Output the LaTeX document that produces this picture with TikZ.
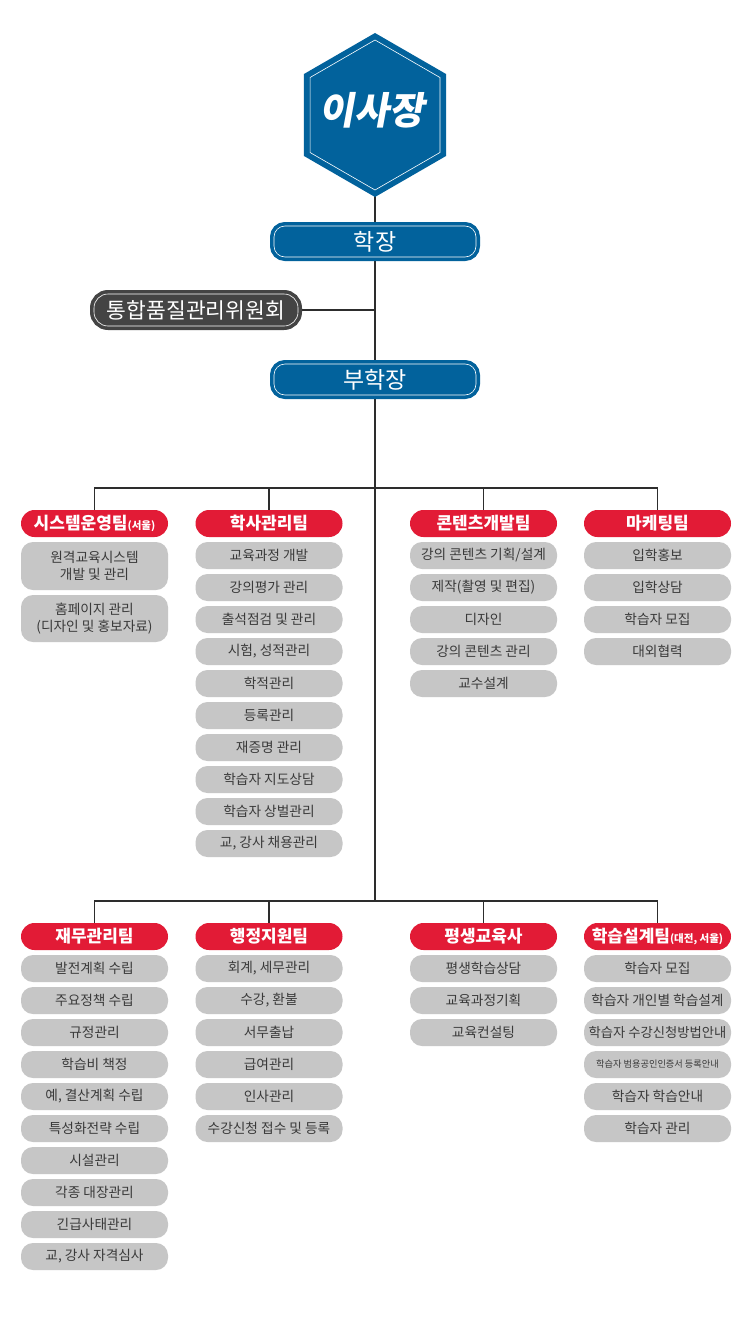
\documentclass[tikz,border=0pt]{standalone}
\usepackage{fontspec}
\setmainfont{Noto Sans CJK KR}
\newfontfamily\slantkor[FakeSlant=0.18]{Noto Sans CJK KR}
\usetikzlibrary{positioning, backgrounds}

\definecolor{chairblue}{RGB}{2,98,156}
\definecolor{boardgray}{RGB}{68,68,68}
\definecolor{teamred}{RGB}{226,27,54}
\definecolor{taskgray}{RGB}{198,198,198}
\definecolor{taskink}{RGB}{58,58,58}
\definecolor{linegray}{RGB}{45,45,45}

\newcommand{\subnote}[1]{{\fontsize{10.5}{12}\selectfont #1}}

\begin{document}
\begin{tikzpicture}[x=1pt, y=1pt, node distance=5pt,
        link/.style={draw=linegray, line width=1.4pt},
        office/.style={fill=#1, draw=white, line width=0.6pt,
            preaction={draw=#1, line width=8pt}, rounded corners=11pt,
            minimum width=202pt, minimum height=31pt, inner sep=0pt,
            text=white, font=\fontsize{23}{26}\selectfont},
        team/.style={fill=teamred, rounded corners=13.5pt, minimum width=147pt,
            minimum height=27pt, inner sep=0pt, outer sep=0pt, text=white,
            font=\bfseries\fontsize{17}{19}\selectfont},
        task/.style={fill=taskgray, rounded corners=12pt, minimum width=147pt,
            minimum height=27pt, inner sep=0pt, outer sep=0pt, align=center, text=taskink,
            font=\fontsize{13.7}{17}\selectfont}]
        \useasboundingbox (0,0) rectangle (750,-1335);

        % chairman
        \coordinate (top) at (375,-115);
        \fill[chairblue] (top) +(90:82) -- +(150:82) -- +(210:82) -- +(270:82) -- +(330:82) -- +(30:82) -- cycle;
        \draw[white, line width=0.6pt] (top) +(90:75) -- +(150:75) -- +(210:75) -- +(270:75) -- +(330:75) -- +(30:75) -- cycle;
        \node[text=white, font=\slantkor\bfseries\fontsize{38}{42}\selectfont] (chair) at (372,-110) {이사장};

        \node[office=chairblue] (rector) at (375,-241.5) {학장};
        \node[office=boardgray, minimum width=204pt, minimum height=32pt, rounded corners=14pt,
            font=\fontsize{21.5}{24}\selectfont] (board) at (196,-310) {통합품질관리위원회};
        \node[office=chairblue] (vice) at (375,-379.5) {부학장};

        \coordinate (bus1) at (375,-488);
        \coordinate (bus2) at (375,-901);

        % first row of teams
        \node[team] (sys) at (94.5,-523.5) {시스템운영팀\subnote{(서울)}};
        \node[task, minimum height=48pt, below=of sys] (sys1) {원격교육시스템\\개발 및 관리};
        \node[task, minimum height=47pt, below=of sys1] (sys2) {홈페이지 관리\\(디자인 및 홍보자료)};

        \node[team] (acad) at (269,-523.5) {학사관리팀};
        \node[task, below=of acad] (acad1) {교육과정 개발};
        \node[task, below=of acad1] (acad2) {강의평가 관리};
        \node[task, below=of acad2] (acad3) {출석점검 및 관리};
        \node[task, below=of acad3] (acad4) {시험, 성적관리};
        \node[task, below=of acad4] (acad5) {학적관리};
        \node[task, below=of acad5] (acad6) {등록관리};
        \node[task, below=of acad6] (acad7) {재증명 관리};
        \node[task, below=of acad7] (acad8) {학습자 지도상담};
        \node[task, below=of acad8] (acad9) {학습자 상벌관리};
        \node[task, below=of acad9] (acad10) {교, 강사 채용관리};

        \node[team] (cont) at (483.5,-523.5) {콘텐츠개발팀};
        \node[task, below=of cont] (cont1) {강의 콘텐츠 기획/설계};
        \node[task, below=of cont1] (cont2) {제작(촬영 및 편집)};
        \node[task, below=of cont2] (cont3) {디자인};
        \node[task, below=of cont3] (cont4) {강의 콘텐츠 관리};
        \node[task, below=of cont4] (cont5) {교수설계};

        \node[team] (mkt) at (657.5,-523.5) {마케팅팀};
        \node[task, below=of mkt] (mkt1) {입학홍보};
        \node[task, below=of mkt1] (mkt2) {입학상담};
        \node[task, below=of mkt2] (mkt3) {학습자 모집};
        \node[task, below=of mkt3] (mkt4) {대외협력};

        % second row of teams
        \node[team] (fin) at (94.5,-936.5) {재무관리팀};
        \node[task, below=of fin] (fin1) {발전계획 수립};
        \node[task, below=of fin1] (fin2) {주요정책 수립};
        \node[task, below=of fin2] (fin3) {규정관리};
        \node[task, below=of fin3] (fin4) {학습비 책정};
        \node[task, below=of fin4] (fin5) {예, 결산계획 수립};
        \node[task, below=of fin5] (fin6) {특성화전략 수립};
        \node[task, below=of fin6] (fin7) {시설관리};
        \node[task, below=of fin7] (fin8) {각종 대장관리};
        \node[task, below=of fin8] (fin9) {긴급사태관리};
        \node[task, below=of fin9] (fin10) {교, 강사 자격심사};

        \node[team] (adm) at (269,-936.5) {행정지원팀};
        \node[task, below=of adm] (adm1) {회계, 세무관리};
        \node[task, below=of adm1] (adm2) {수강, 환불};
        \node[task, below=of adm2] (adm3) {서무출납};
        \node[task, below=of adm3] (adm4) {급여관리};
        \node[task, below=of adm4] (adm5) {인사관리};
        \node[task, below=of adm5] (adm6) {수강신청 접수 및 등록};

        \node[team] (life) at (483.5,-936.5) {평생교육사};
        \node[task, below=of life] (life1) {평생학습상담};
        \node[task, below=of life1] (life2) {교육과정기획};
        \node[task, below=of life2] (life3) {교육컨설팅};

        \node[team] (des) at (657.5,-936.5) {학습설계팀\subnote{(대전, 서울)}};
        \node[task, below=of des] (des1) {학습자 모집};
        \node[task, below=of des1] (des2) {학습자 개인별 학습설계};
        \node[task, below=of des2, font=\fontsize{13.3}{15}\selectfont] (des3) {학습자 수강신청방법안내};
        \node[task, below=of des3, font=\fontsize{9.2}{10}\selectfont] (des4) {학습자 범용공인인증서 등록안내};
        \node[task, below=of des4] (des5) {학습자 학습안내};
        \node[task, below=of des5] (des6) {학습자 관리};

        % connectors under the boxes
        \begin{scope}[on background layer]
            \fill[white] (0,0) rectangle (750,-1335);
            \draw[link] (top) -- (bus2);
            \draw[link] (board) -- (board -| top);
            \draw[link] (sys.north) |- (bus1) -| (mkt.north);
            \draw[link] (acad) -- (acad |- bus1);
            \draw[link] (cont) -- (cont |- bus1);
            \draw[link] (fin.north) |- (bus2) -| (des.north);
            \draw[link] (adm) -- (adm |- bus2);
            \draw[link] (life) -- (life |- bus2);
        \end{scope}
    \end{tikzpicture}
\end{document}
